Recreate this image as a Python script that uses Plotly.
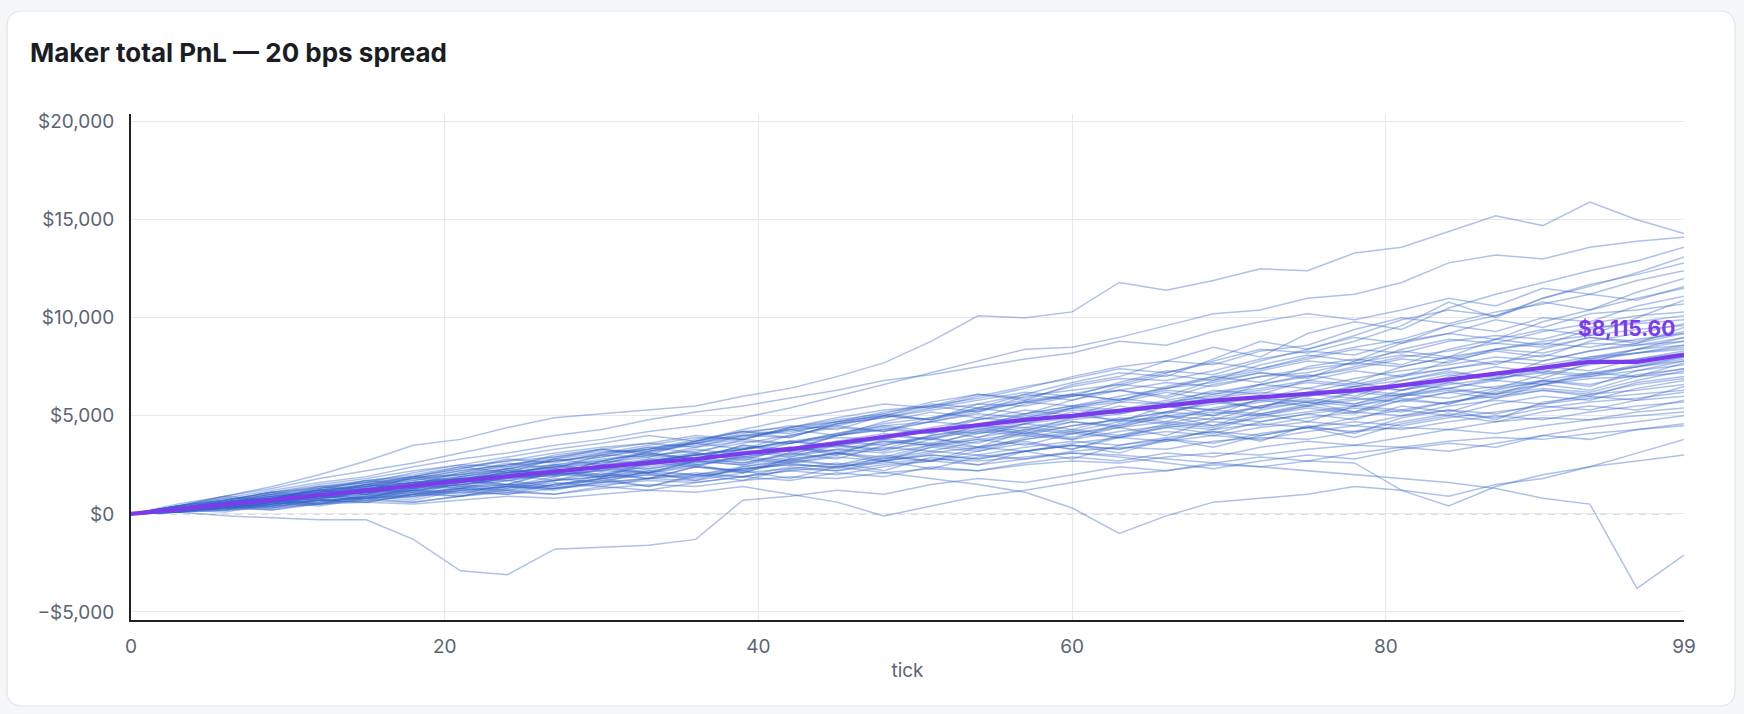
import plotly.graph_objects as go

# sampled every 3 ticks, values in hundreds of dollars
ticks = list(range(0, 100, 3))

upper_paths = [
    [0, 5, 9, 14, 20, 27, 35, 38, 44, 49, 51, 53, 55, 60, 64, 70, 77, 88, 101, 100, 103, 118, 114, 119, 125, 124, 133, 136, 144, 152, 147, 159, 150, 143],
    [0, 4, 8, 12, 16, 19, 24, 28, 31, 35, 38, 42, 45, 49, 54, 60, 66, 72, 78, 84, 85, 90, 96, 102, 104, 110, 112, 118, 128, 132, 130, 136, 139, 141],
    [0, 3, 6, 10, 12, 17, 19, 23, 28, 26, 31, 35, 39, 38, 44, 47, 52, 55, 61, 58, 66, 70, 78, 85, 80, 92, 98, 94, 105, 112, 118, 124, 129, 136],
    [0, 4, 7, 11, 15, 18, 22, 25, 29, 33, 36, 40, 37, 43, 48, 52, 56, 54, 60, 65, 69, 74, 72, 78, 84, 82, 88, 96, 108, 100, 110, 116, 123, 131],
    [0, 3, 7, 11, 14, 16, 21, 25, 24, 30, 33, 31, 36, 41, 45, 43, 50, 56, 54, 61, 67, 72, 70, 79, 88, 84, 91, 99, 104, 101, 110, 117, 122, 128],
    [0, 4, 9, 13, 18, 22, 26, 31, 36, 40, 43, 48, 52, 55, 59, 63, 68, 71, 75, 79, 82, 88, 86, 93, 98, 102, 99, 104, 110, 106, 115, 112, 119, 124],
    [0, 3, 5, 8, 12, 15, 19, 20, 25, 27, 30, 34, 36, 40, 39, 46, 49, 54, 58, 62, 60, 67, 73, 71, 78, 84, 90, 87, 96, 101, 108, 104, 113, 120],
    [0, 2, 6, 9, 11, 15, 18, 22, 25, 29, 32, 32, 37, 42, 44, 49, 53, 55, 59, 64, 70, 75, 78, 76, 83, 86, 94, 100, 97, 103, 107, 112, 109, 116],
    [0, 4, 9, 7, 14, 12, 19, 24, 21, 28, 33, 30, 37, 42, 39, 46, 51, 48, 56, 61, 58, 65, 71, 68, 76, 81, 78, 87, 92, 89, 98, 104, 110, 115],
    [0, 3, 6, 8, 12, 14, 18, 20, 23, 25, 29, 33, 38, 42, 41, 47, 50, 55, 52, 60, 63, 66, 72, 77, 74, 80, 85, 89, 96, 93, 100, 98, 106, 111],
    [0, 4, 7, 11, 9, 15, 19, 17, 23, 28, 25, 32, 36, 33, 40, 45, 42, 49, 54, 51, 58, 63, 60, 68, 72, 69, 78, 83, 80, 89, 94, 91, 100, 109],
    [0, 4, 7, 11, 13, 16, 19, 23, 27, 31, 34, 36, 40, 38, 44, 48, 51, 57, 61, 59, 65, 69, 68, 73, 79, 83, 81, 88, 92, 99, 95, 102, 104, 107],
]

middle_paths = [
    [0, 2, 5, 7, 10, 13, 16, 17, 21, 24, 28, 30, 32, 36, 40, 44, 42, 47, 52, 57, 61, 58, 64, 69, 73, 78, 76, 84, 89, 87, 93, 97, 101, 103],
    [0, 4, 8, 7, 13, 17, 15, 21, 26, 23, 30, 34, 31, 38, 43, 40, 47, 52, 49, 56, 61, 58, 65, 70, 67, 75, 79, 76, 84, 89, 86, 94, 98, 101],
    [0, 3, 6, 9, 12, 15, 17, 21, 24, 27, 29, 33, 36, 39, 43, 45, 50, 48, 54, 58, 61, 66, 64, 70, 74, 79, 84, 82, 88, 91, 89, 95, 97, 99],
    [0, 3, 6, 10, 8, 14, 18, 16, 22, 20, 27, 31, 28, 35, 33, 40, 45, 42, 49, 47, 54, 59, 56, 63, 61, 68, 73, 70, 78, 83, 80, 88, 92, 97],
    [0, 2, 5, 8, 10, 12, 15, 18, 20, 24, 26, 29, 33, 30, 36, 40, 43, 47, 45, 51, 55, 58, 63, 61, 66, 70, 74, 79, 77, 84, 88, 91, 94, 96],
    [0, 3, 7, 5, 11, 15, 13, 19, 23, 20, 27, 31, 28, 35, 32, 40, 44, 41, 48, 53, 50, 57, 62, 58, 66, 71, 67, 75, 80, 76, 84, 90, 87, 95],
    [0, 3, 5, 7, 11, 14, 16, 19, 22, 25, 27, 32, 35, 38, 36, 41, 46, 49, 53, 57, 55, 60, 64, 67, 72, 70, 75, 80, 83, 87, 85, 90, 88, 93],
    [0, 3, 6, 10, 13, 16, 18, 22, 25, 28, 31, 33, 37, 40, 42, 46, 49, 53, 56, 55, 60, 63, 67, 65, 70, 74, 77, 81, 79, 84, 87, 85, 89, 92],
    [0, 3, 6, 4, 10, 8, 14, 18, 15, 22, 19, 26, 31, 27, 34, 30, 38, 43, 39, 46, 52, 47, 55, 50, 59, 64, 60, 68, 73, 69, 78, 83, 87, 92],
    [0, 3, 7, 10, 14, 17, 20, 24, 27, 29, 33, 36, 34, 40, 43, 47, 50, 48, 53, 57, 60, 63, 59, 66, 70, 72, 77, 75, 80, 84, 82, 87, 86, 90],
    [0, 3, 5, 9, 12, 10, 15, 13, 19, 23, 20, 26, 24, 30, 34, 31, 37, 35, 42, 46, 43, 49, 47, 54, 58, 55, 62, 60, 67, 72, 69, 77, 84, 90],
    [0, 2, 4, 7, 9, 11, 14, 17, 19, 21, 25, 27, 30, 33, 37, 35, 40, 44, 48, 51, 55, 53, 58, 62, 66, 64, 69, 73, 76, 80, 78, 83, 86, 88],
    [0, 4, 3, 8, 12, 10, 16, 14, 20, 25, 22, 28, 26, 33, 30, 37, 41, 38, 45, 42, 49, 55, 51, 58, 54, 62, 67, 63, 70, 75, 72, 80, 84, 88],
    [0, 3, 6, 8, 11, 13, 15, 18, 21, 23, 26, 30, 28, 33, 37, 40, 43, 41, 46, 50, 54, 52, 57, 60, 63, 67, 65, 70, 74, 77, 81, 79, 84, 86],
    [0, 2, 5, 9, 7, 12, 10, 16, 20, 17, 23, 21, 27, 32, 29, 35, 33, 40, 44, 41, 47, 45, 52, 57, 54, 61, 59, 66, 71, 68, 75, 79, 82, 86],
    [0, 2, 5, 7, 9, 12, 15, 17, 21, 24, 27, 26, 30, 33, 36, 39, 38, 43, 46, 49, 53, 51, 56, 59, 62, 60, 65, 68, 72, 70, 75, 78, 82, 85],
    [0, 2, 5, 8, 12, 14, 17, 20, 23, 27, 30, 29, 34, 37, 36, 41, 45, 47, 51, 49, 54, 57, 56, 61, 64, 68, 66, 71, 74, 78, 76, 80, 82, 84],
    [0, 3, 2, 6, 9, 8, 13, 17, 14, 19, 24, 21, 27, 25, 31, 35, 32, 38, 36, 43, 47, 44, 50, 48, 55, 59, 56, 63, 67, 64, 71, 76, 79, 83],
    [0, 3, 5, 7, 9, 12, 14, 16, 19, 22, 24, 27, 30, 28, 33, 36, 39, 43, 41, 46, 49, 52, 55, 53, 58, 61, 65, 63, 68, 72, 75, 73, 79, 82],
    [0, 1, 4, 7, 5, 10, 8, 13, 17, 14, 20, 18, 24, 21, 27, 31, 28, 34, 32, 38, 42, 39, 45, 43, 50, 54, 51, 58, 62, 59, 66, 71, 75, 80],
    [0, 2, 4, 6, 9, 12, 15, 18, 20, 19, 23, 27, 30, 34, 32, 36, 40, 38, 43, 47, 50, 48, 52, 56, 59, 57, 62, 66, 64, 69, 73, 71, 76, 80],
    [0, 3, 5, 8, 11, 14, 16, 19, 22, 21, 25, 28, 31, 29, 33, 37, 35, 40, 43, 41, 45, 48, 52, 50, 55, 58, 56, 61, 64, 68, 66, 72, 75, 79],
    [0, 3, 6, 9, 11, 13, 16, 18, 21, 24, 23, 27, 30, 33, 37, 34, 39, 42, 45, 44, 48, 51, 55, 53, 57, 60, 63, 61, 66, 69, 72, 70, 75, 78],
    [0, 2, 5, 3, 8, 11, 9, 14, 12, 17, 21, 18, 24, 22, 28, 31, 29, 35, 33, 39, 43, 40, 46, 44, 51, 55, 52, 58, 56, 63, 68, 65, 73, 78],
    [0, 2, 5, 4, 9, 13, 11, 17, 15, 21, 19, 25, 29, 26, 31, 28, 35, 39, 34, 42, 38, 46, 50, 45, 53, 57, 52, 60, 64, 61, 68, 72, 70, 77],
    [0, 2, 3, 6, 8, 10, 13, 15, 18, 20, 22, 25, 28, 26, 30, 33, 37, 35, 39, 43, 41, 45, 49, 52, 50, 55, 58, 61, 59, 64, 67, 70, 73, 76],
    [0, 3, 5, 8, 10, 13, 16, 18, 17, 21, 24, 27, 25, 29, 32, 35, 38, 36, 41, 44, 42, 47, 50, 53, 51, 56, 59, 57, 62, 65, 68, 66, 71, 74],
    [0, 3, 2, 6, 9, 7, 12, 15, 13, 18, 16, 22, 25, 21, 28, 31, 27, 34, 38, 35, 41, 44, 40, 48, 51, 47, 55, 59, 56, 62, 66, 63, 70, 74],
    [0, 2, 4, 6, 8, 11, 13, 15, 18, 20, 19, 23, 26, 29, 27, 31, 34, 32, 37, 40, 38, 42, 45, 49, 47, 51, 54, 52, 57, 61, 64, 62, 68, 73],
    [0, 2, 4, 7, 10, 11, 13, 16, 19, 22, 24, 23, 27, 31, 34, 32, 36, 39, 42, 40, 45, 48, 46, 51, 54, 57, 55, 60, 63, 61, 66, 69, 70, 72],
    [0, 2, 4, 7, 5, 9, 12, 10, 15, 13, 18, 21, 17, 24, 28, 25, 30, 27, 34, 37, 33, 40, 44, 41, 47, 51, 48, 55, 52, 59, 63, 60, 67, 70],
    [0, 2, 5, 6, 8, 11, 14, 16, 18, 21, 20, 24, 27, 25, 29, 33, 31, 35, 38, 41, 39, 44, 47, 45, 49, 52, 55, 53, 57, 60, 63, 61, 66, 69],
    [0, 1, 3, 6, 4, 8, 11, 9, 14, 12, 17, 20, 18, 23, 26, 23, 29, 27, 32, 36, 33, 39, 37, 43, 46, 44, 49, 53, 50, 56, 60, 58, 64, 68],
    [0, 3, 4, 6, 9, 11, 12, 15, 17, 20, 22, 21, 25, 28, 26, 30, 33, 36, 34, 38, 41, 39, 44, 47, 45, 49, 52, 50, 55, 58, 56, 61, 63, 66],
]

lower_paths = [
    [0, 1, 4, 2, 6, 9, 7, 12, 10, 15, 18, 14, 20, 17, 23, 26, 22, 29, 25, 32, 35, 31, 38, 42, 37, 45, 41, 49, 53, 48, 57, 60, 58, 65],
    [0, 1, 3, 5, 7, 8, 10, 13, 15, 14, 18, 21, 24, 22, 26, 29, 27, 31, 34, 32, 36, 39, 42, 40, 44, 47, 45, 50, 53, 51, 56, 59, 61, 63],
    [0, 2, 4, 3, 7, 6, 10, 9, 13, 16, 14, 18, 21, 19, 24, 22, 27, 30, 28, 32, 35, 33, 38, 36, 41, 44, 42, 47, 51, 49, 54, 57, 59, 62],
    [0, 2, 4, 5, 7, 9, 12, 11, 14, 17, 19, 22, 20, 24, 27, 25, 28, 32, 30, 34, 37, 35, 39, 42, 40, 44, 47, 45, 49, 52, 55, 53, 58, 60],
    [0, 2, 1, 5, 7, 6, 10, 13, 11, 15, 17, 14, 19, 22, 18, 24, 27, 23, 29, 32, 28, 35, 38, 34, 40, 44, 39, 46, 50, 47, 52, 55, 53, 58],
    [0, 2, 3, 5, 6, 9, 11, 13, 12, 15, 18, 20, 19, 23, 25, 24, 27, 30, 28, 32, 35, 33, 37, 40, 38, 42, 45, 43, 47, 50, 48, 52, 55, 57],
    [0, 1, 3, 4, 7, 8, 9, 12, 14, 13, 16, 18, 17, 21, 23, 22, 25, 27, 30, 28, 32, 34, 33, 37, 39, 38, 42, 44, 43, 47, 49, 48, 52, 54],
    [0, 1, 3, 2, 5, 8, 6, 9, 12, 10, 14, 12, 16, 19, 17, 21, 19, 24, 22, 26, 29, 27, 31, 29, 34, 37, 35, 39, 43, 41, 45, 48, 50, 52],
    [0, 2, 3, 4, 6, 7, 9, 11, 10, 13, 15, 17, 16, 19, 22, 20, 24, 27, 25, 28, 31, 29, 26, 23, 27, 30, 28, 33, 36, 34, 40, 44, 47, 50],
    [0, 1, 2, 4, 5, 7, 6, 9, 11, 10, 13, 15, 14, 17, 19, 18, 21, 23, 22, 25, 27, 26, 29, 31, 30, 33, 35, 34, 37, 39, 38, 41, 43, 45],
    [0, 1, -1, -2, -3, -3, -13, -29, -31, -18, -17, -16, -13, 7, 9, 12, 10, 15, 18, 16, 20, 24, 22, 26, 29, 27, 31, 34, 32, 36, 40, 38, 43, 46],
    [0, 2, 4, 6, 8, 10, 12, 14, 15, 17, 19, 21, 20, 23, 25, 24, 26, 28, 27, 29, 31, 30, 28, 26, 24, 22, 20, 18, 16, 13, 8, 5, -38, -21],
    [0, 2, 3, 5, 7, 8, 10, 12, 14, 13, 16, 18, 20, 19, 22, 24, 21, 18, 15, 11, 3, -10, -1, 6, 8, 10, 14, 12, 9, 15, 18, 24, 31, 38],
    [0, 1, 2, 3, 5, 6, 5, 7, 9, 8, 10, 12, 11, 14, 10, 6, -1, 4, 9, 12, 16, 20, 22, 25, 24, 27, 26, 12, 4, 14, 20, 24, 27, 30],
]

mean_pnl = [0, 240, 480, 720, 960, 1210, 1480, 1720, 1950, 2180, 2400, 2600, 2800, 3080, 3300,
            3600, 3950, 4250, 4520, 4800, 5000, 5250, 5500, 5780, 5950, 6100, 6300, 6550,
            6850, 7200, 7450, 7750, 7750, 8115.60]

x_tickvals = [0, 20, 40, 60, 80, 99]
y_tickvals = [-5000, 0, 5000, 10000, 15000, 20000]
y_ticktext = ["\u2212$5,000", "$0", "$5,000", "$10,000", "$15,000", "$20,000"]

W, H = 1744, 714
L, R, T, B = 131, 1684, 114, 620


def px(x):
    return (x - L) / (R - L)


def py(y):
    return (B - y) / (B - T)


def rounded_rect(x0, y0, x1, y1, r):
    rx, ry = r / (R - L), r / (B - T)
    a, b, c, d = px(x0), px(x1), py(y0), py(y1)
    return (f"M{a + rx},{c} L{b - rx},{c} Q{b},{c} {b},{c - ry} "
            f"L{b},{d + ry} Q{b},{d} {b - rx},{d} L{a + rx},{d} "
            f"Q{a},{d} {a},{d + ry} L{a},{c - ry} Q{a},{c} {a + rx},{c} Z")


fig = go.Figure()

for path in upper_paths + middle_paths + lower_paths:
    fig.add_trace(go.Scatter(
        x=ticks, y=[v * 100 for v in path], mode="lines",
        line=dict(color="rgba(52,100,200,0.4)", width=1.5),
        hoverinfo="skip", showlegend=False,
    ))

fig.add_trace(go.Scatter(
    x=ticks, y=mean_pnl, mode="lines",
    line=dict(color="#7c3aed", width=4.2),
    showlegend=False,
))

fig.add_annotation(
    x=ticks[-1], y=mean_pnl[-1], text=f"${mean_pnl[-1]:,.2f}",
    showarrow=False, xanchor="right", yanchor="middle", xshift=-7, yshift=26,
    font=dict(family="Inter", size=21, color="#7c3aed", weight=700),
)

# card background
fig.add_shape(type="path", path=rounded_rect(7, 11, 1735, 706, 16),
              xref="paper", yref="paper", fillcolor="white",
              line=dict(color="#e2e5ea", width=1.2), layer="below")

# dashed zero line
fig.add_shape(type="line", x0=0, x1=98.6, y0=0, y1=0, xref="x", yref="y",
              line=dict(color="#cdd1d8", width=1.6, dash="7px,6px"), layer="below")

fig.update_layout(
    width=W, height=H,
    margin=dict(l=L, r=W - R, t=T, b=H - B, pad=0),
    paper_bgcolor="#f6f7f9",
    plot_bgcolor="rgba(0,0,0,0)",
    font=dict(family="Inter", size=19, color="#5b6475"),
    title=dict(
        text="Maker total PnL \u2014 20 bps spread",
        x=30 / W, y=1 - 53 / H, xref="container", yref="container",
        xanchor="left", yanchor="middle",
        font=dict(family="Inter", size=26, color="#1a1d23", weight=700),
    ),
    xaxis=dict(
        range=[0, 99], tickvals=x_tickvals, showgrid=True, gridcolor="#e6e8ec",
        gridwidth=1, zeroline=False, showline=True, linecolor="#1f2328", linewidth=2,
        ticks="", ticklabelstandoff=8,
        title=dict(text="tick", standoff=7, font=dict(size=19, color="#5b6475")),
    ),
    yaxis=dict(
        range=[-5410, 20390], tickvals=y_tickvals, ticktext=y_ticktext,
        showgrid=True, gridcolor="#e6e8ec", gridwidth=1, zeroline=False,
        showline=True, linecolor="#1f2328", linewidth=2, ticks="",
        ticklabelstandoff=11,
    ),
)

fig.write_html(
    "out.html",
    config={"displayModeBar": False},
    post_script="document.body.style.margin='0';document.body.style.background='#f6f7f9';",
)
